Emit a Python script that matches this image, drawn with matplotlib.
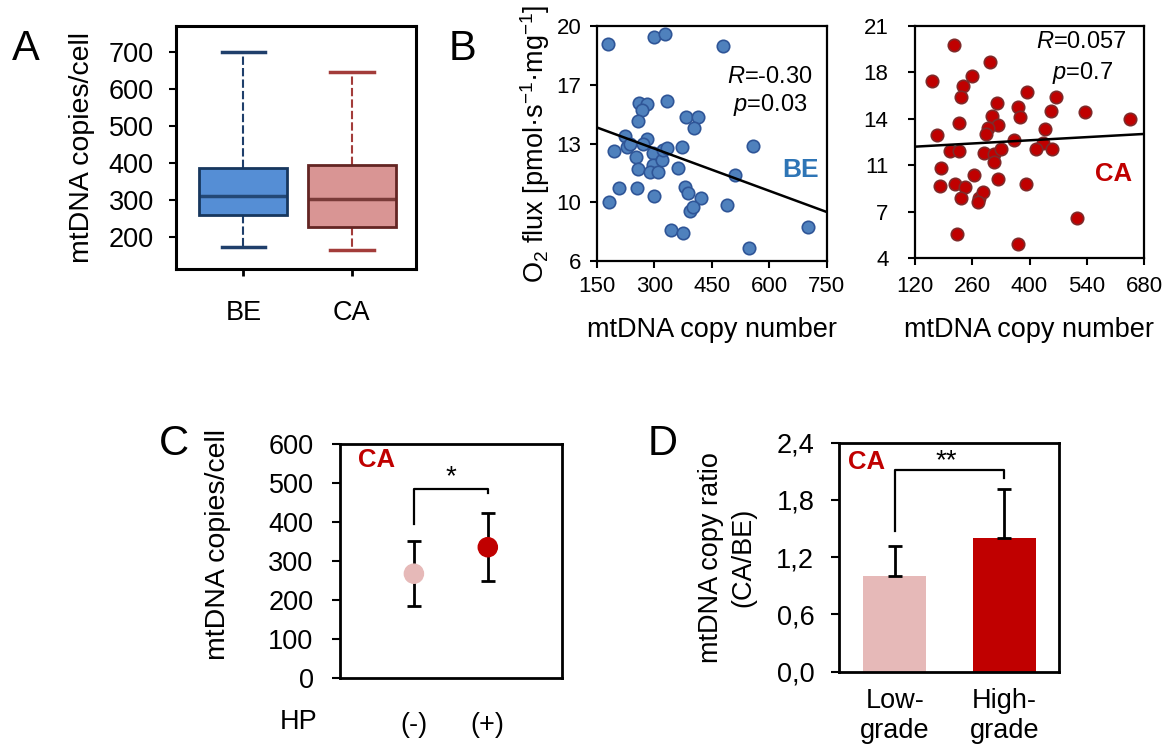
import matplotlib.pyplot as plt
from matplotlib.ticker import FuncFormatter

plt.rcParams['font.family'] = ['Liberation Sans', 'DejaVu Sans']
plt.rcParams['mathtext.fontset'] = 'custom'
plt.rcParams['mathtext.rm'] = 'Liberation Sans'
plt.rcParams['mathtext.it'] = 'Liberation Sans:italic'
plt.rcParams['mathtext.bf'] = 'Liberation Sans:bold'

W, H = 1174, 751

# --- A: box plot ---
box_groups = ['BE', 'CA']
box_whislo = [173, 166]
box_q1 = [260, 229]
box_med = [312, 303]
box_q3 = [388, 395]
box_whishi = [700, 647]

# --- B: scatter, BE ---
be_copies = [180, 300, 327, 479, 333, 260, 282, 267, 259, 382, 415, 404, 224, 228,
             194, 237, 280, 272, 298, 253, 257, 298, 289, 311, 321, 324, 363, 372,
             333, 208, 254, 183, 300, 380, 389, 422, 394, 402, 491, 511, 559, 343,
             376, 546, 702]
be_flux = [18.93, 19.32, 19.50, 18.83, 15.55, 15.43, 15.35, 15.0, 14.36, 14.56, 14.56,
           13.90, 13.45, 12.81, 12.55, 13.0, 13.25, 12.97, 12.41, 12.21, 11.46, 11.72,
           11.32, 11.32, 12.02, 12.61, 11.52, 12.81, 12.71, 10.37, 10.37, 9.53, 9.87,
           10.43, 10.03, 9.77, 9.0, 9.24, 9.34, 11.12, 12.85, 7.85, 7.69, 6.76, 8.04]
be_fit_x = [150, 750]
be_fit_y = [13.96, 8.92]
be_yticks = [6, 9.5, 13, 16.5, 20]
be_yticklabels = ['6', '10', '13', '17', '20']
be_xticks = [150, 300, 450, 600, 750]

# --- B: scatter, CA ---
ca_copies = [215, 303, 162, 260, 238, 232, 395, 465, 320, 373, 452, 536, 646, 377,
             308, 324, 299, 228, 175, 294, 437, 432, 362, 206, 228, 289, 312, 330,
             416, 455, 313, 183, 264, 180, 219, 242, 324, 391, 232, 277, 286, 275,
             222, 373, 515]
ca_flux = [19.61, 18.34, 16.98, 17.37, 16.61, 15.83, 16.17, 15.78, 15.39, 15.10, 14.78,
           14.68, 14.20, 14.32, 14.41, 13.76, 13.51, 13.93, 13.02, 13.07, 13.46, 12.41,
           12.66, 11.85, 11.85, 11.68, 11.63, 11.98, 11.98, 11.98, 11.07, 10.63, 10.10,
           9.32, 9.41, 9.24, 9.78, 9.41, 8.44, 8.44, 8.83, 8.10, 5.78, 5.05, 6.93]
ca_fit_x = [120, 680]
ca_fit_y = [12.17, 13.10]
ca_yticks = [4, 7.4, 10.8, 14.2, 17.6, 21]
ca_yticklabels = ['4', '7', '11', '14', '18', '21']
ca_xticks = [120, 260, 400, 540, 680]

# --- C: HP status ---
hp_labels = ['(-)', '(+)']
hp_mean = [267, 335]
hp_err = [83, 87]
hp_colors = ['#E6B9B8', '#C00000']

# --- D: grade ---
grade_labels = ['Low-\ngrade', 'High-\ngrade']
grade_ratio = [1.0, 1.40]
grade_err = [0.32, 0.52]
grade_colors = ['#E6B9B8', '#C00000']


def px_axes(fig, x0, y0, x1, y1):
    # axes placed by pixel box (y measured from top)
    return fig.add_axes([x0 / W, 1 - y1 / H, (x1 - x0) / W, (y1 - y0) / H])


def fig_text(fig, x, y, s, **kw):
    return fig.text(x / W, 1 - y / H, s, **kw)


def style_frame(ax, lw):
    for sp in ax.spines.values():
        sp.set_linewidth(lw)
        sp.set_color('black')


fig = plt.figure(figsize=(W / 100, H / 100), dpi=100)

# ---------- A ----------
ax = px_axes(fig, 176, 26, 416, 269)
stats = [dict(label=g, whislo=lo, q1=a, med=m, q3=b, whishi=hi)
         for g, lo, a, m, b, hi in zip(box_groups, box_whislo, box_q1, box_med, box_q3, box_whishi)]
bp = ax.bxp(stats, positions=[1, 2], widths=0.81, patch_artist=True,
            showfliers=False, capwidths=0.4)
fills = ['#558ED5', '#D99594']
edges = ['#17375E', '#632523']
whisk = ['#1F3F6B', '#A33C3A']
for i in range(2):
    bp['boxes'][i].set(facecolor=fills[i], edgecolor=edges[i], linewidth=2, zorder=3)
    bp['medians'][i].set(color=edges[i], linewidth=2.5, alpha=0.8, zorder=4)
    for w in bp['whiskers'][2 * i:2 * i + 2]:
        w.set(color=whisk[i], linestyle=(0, (4, 1.5)), linewidth=1.5)
    for c in bp['caps'][2 * i:2 * i + 2]:
        c.set(color=whisk[i], linewidth=2.5)
ax.set_xlim(0.38, 2.59)
ax.set_ylim(115, 770)
ax.set_yticks([200, 300, 400, 500, 600, 700])
ax.tick_params(axis='y', labelsize=19.5, length=5, width=1.5, pad=11)
ax.tick_params(axis='x', labelsize=19.5, length=5, width=2, pad=17)
ax.set_ylabel('mtDNA copies/cell', fontsize=20.5, labelpad=10)
style_frame(ax, 2.2)

# ---------- B left ----------
ax = px_axes(fig, 596.7, 26, 826.7, 261)
ax.scatter(be_copies, be_flux, s=80, c='#4F81BD', edgecolors='#2F5597', linewidths=1.2, zorder=3)
ax.plot(be_fit_x, be_fit_y, color='black', linewidth=1.8, zorder=4)
ax.set_xlim(150, 750)
ax.set_ylim(6, 20)
ax.set_xticks(be_xticks)
ax.set_yticks(be_yticks, be_yticklabels)
ax.tick_params(labelsize=16, length=5, width=1.5, pad=6)
ax.set_ylabel('O$_2$ flux [pmol·s$^{-1}$·mg$^{-1}$]', fontsize=19.5, labelpad=3)
ax.set_xlabel('mtDNA copy number', fontsize=19.5, labelpad=14)
style_frame(ax, 1.6)
fig_text(fig, 770, 77, '$R$=-0.30', fontsize=17, ha='center', va='center')
fig_text(fig, 770, 105, '$p$=0.03', fontsize=17, ha='center', va='center')
fig_text(fig, 801, 170, 'BE', fontsize=19, fontweight='bold', color='#2E75B6',
         ha='center', va='center')

# ---------- B right ----------
ax = px_axes(fig, 915, 26, 1144, 258.3)
ax.scatter(ca_copies, ca_flux, s=80, c='#C00000', edgecolors='#7F2A2A', linewidths=1.2, zorder=3)
ax.plot(ca_fit_x, ca_fit_y, color='black', linewidth=1.8, zorder=4)
ax.set_xlim(120, 680)
ax.set_ylim(4, 21)
ax.set_xticks(ca_xticks)
ax.set_yticks(ca_yticks, ca_yticklabels)
ax.tick_params(labelsize=16, length=5, width=1.5, pad=8)
ax.tick_params(axis='y', pad=14)
ax.set_xlabel('mtDNA copy number', fontsize=19.5, labelpad=14)
style_frame(ax, 1.6)
fig_text(fig, 1081, 42, '$R$=0.057', fontsize=17, ha='center', va='center')
fig_text(fig, 1083, 73, '$p$=0.7', fontsize=17, ha='center', va='center')
fig_text(fig, 1114, 174, 'CA', fontsize=18.5, fontweight='bold', color='#C00000',
         ha='center', va='center')

# ---------- C ----------
ax = px_axes(fig, 340, 444, 561.7, 677.7)
xc = list(range(len(hp_labels)))
ax.errorbar(xc, hp_mean, yerr=hp_err, fmt='none', ecolor='black', elinewidth=2,
            capsize=5, capthick=2, zorder=2)
ax.scatter(xc, hp_mean, s=190, c=hp_colors, zorder=3)
ax.plot([0, 0, 1, 1], [395, 485, 485, 474], color='black', linewidth=1.6)
ax.text(0.5, 515, '*', fontsize=20, ha='center', va='center')
ax.set_xlim(-1, 2)
ax.set_ylim(0, 600)
ax.set_xticks(xc, hp_labels)
ax.set_yticks(range(0, 601, 100))
ax.tick_params(axis='y', labelsize=19.5, length=6, width=1.5, pad=13)
ax.tick_params(axis='x', labelsize=19.5, length=0, pad=25)
ax.set_ylabel('mtDNA copies/cell', fontsize=20.5)
ax.yaxis.set_label_coords(-0.49, 0.57)
style_frame(ax, 2.0)
ax.text(-0.75, 560, 'CA', fontsize=18.5, fontweight='bold', color='#C00000',
        ha='left', va='center')
fig_text(fig, 280, 722, 'HP', fontsize=19.5, ha='left', va='center')

# ---------- D ----------
ax = px_axes(fig, 839.3, 442.7, 1059, 671.7)
xd = list(range(len(grade_labels)))
ax.bar(xd, grade_ratio, width=0.575, color=grade_colors, zorder=2)
ax.errorbar(xd, grade_ratio, yerr=[[0] * len(grade_err), grade_err], fmt='none',
            ecolor='black', elinewidth=2, capsize=5, capthick=2, zorder=3)
ax.plot([0, 0, 1, 1], [1.475, 2.11, 2.11, 2.03], color='black', linewidth=1.6)
ax.text(0.475, 2.21, '**', fontsize=20, ha='center', va='center')
ax.set_xlim(-0.506, 1.5)
ax.set_ylim(0, 2.4)
ax.set_xticks(xd, grade_labels)
ax.set_yticks([0, 0.6, 1.2, 1.8, 2.4])
ax.yaxis.set_major_formatter(FuncFormatter(lambda v, p: f'{v:.1f}'.replace('.', ',')))
ax.tick_params(axis='y', labelsize=19.5, length=6, width=1.5, pad=12)
ax.tick_params(axis='x', labelsize=19.5, length=0, pad=12)
ax.set_ylabel('mtDNA copy ratio\n(CA/BE)', fontsize=19.5, labelpad=14, linespacing=1.35)
style_frame(ax, 2.0)
ax.text(-0.43, 2.2, 'CA', fontsize=18.5, fontweight='bold', color='#C00000',
        ha='left', va='center')

# panel letters
fig_text(fig, 12, 60, 'A', fontsize=30, va='baseline')
fig_text(fig, 449, 60, 'B', fontsize=30, va='baseline')
fig_text(fig, 159, 455, 'C', fontsize=30, va='baseline')
fig_text(fig, 648, 455, 'D', fontsize=30, va='baseline')

fig.savefig('out.png', dpi=100)
